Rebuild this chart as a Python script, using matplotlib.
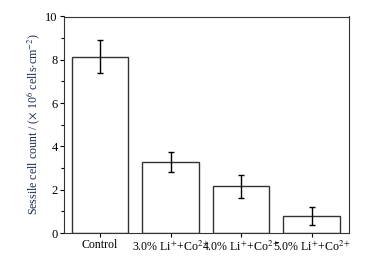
import numpy as np
import matplotlib.pyplot as plt

plt.rcParams['font.family'] = ['Liberation Serif', 'DejaVu Serif']
plt.rcParams['mathtext.fontset'] = 'stix'

groups = ['Control', '3.0% Li$^{+}$+Co$^{2+}$', '4.0% Li$^{+}$+Co$^{2+}$', '5.0% Li$^{+}$+Co$^{2+}$']
counts = [8.15, 3.28, 2.16, 0.79]
errors = [0.75, 0.47, 0.53, 0.42]

fig = plt.figure(figsize=(3.89, 2.58), dpi=100)
ax = fig.add_axes([64/389, 1 - 233/258, (349 - 64)/389, (233 - 16.5)/258])

x = np.arange(len(groups))
ax.bar(x, counts, width=0.8, color='white', edgecolor='#333333', linewidth=1.0)
ax.errorbar(x, counts, yerr=errors, fmt='none', ecolor='black', elinewidth=1.0, capsize=2.5, capthick=1.0)

ax.set_xlim(-0.51, 3.53)
ax.set_ylim(0, 10)
ax.set_xticks(x)
ax.set_xticklabels(groups)
ax.set_yticks([0, 2, 4, 6, 8, 10])
ax.set_yticks([1, 3, 5, 7, 9], minor=True)
ax.tick_params(axis='both', direction='out', labelsize=9, length=3, width=0.8, pad=1.5)
ax.tick_params(axis='y', which='minor', direction='out', length=2, width=0.8)
ax.tick_params(axis='x', labelsize=8.6)
for s in ax.spines.values():
    s.set_linewidth(0.8)
    s.set_color('#333333')

ax.set_ylabel('Sessile cell count / ($\\times$ 10$^{6}$ cells$\\cdot$cm$^{-2}$)', fontsize=8.6, color='#1a2a50', labelpad=2)

fig.savefig('out.png', dpi=100)
